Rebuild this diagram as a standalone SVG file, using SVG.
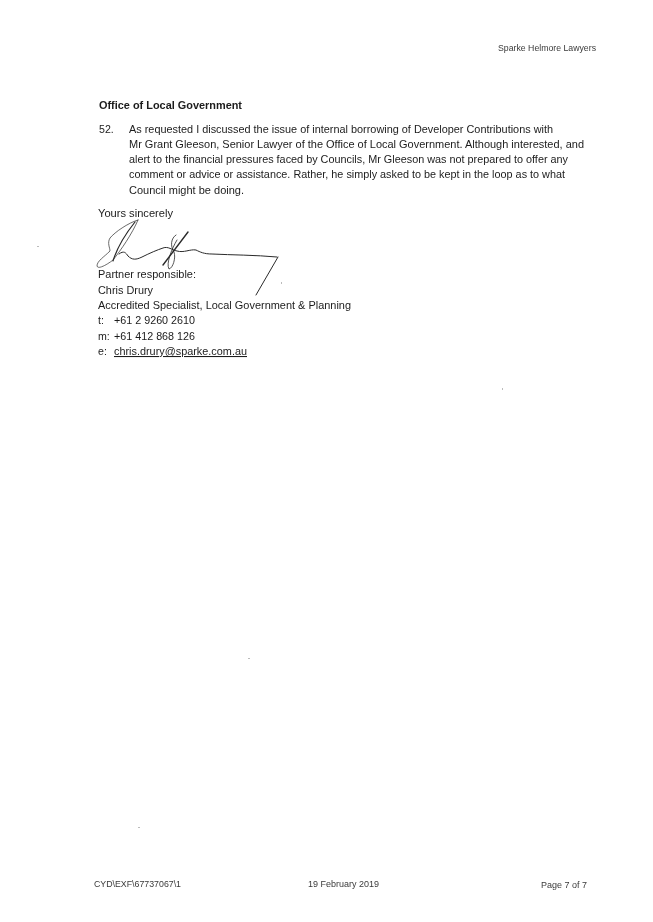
<svg xmlns="http://www.w3.org/2000/svg" width="653" height="922" viewBox="0 0 653 922">
<style>
text{font-family:"Liberation Sans",Arial,sans-serif;fill:#1c1c1c;font-size:10.6px}
.f{font-size:8.6px;fill:#3a3a3a}
.s{fill:none;stroke:#2a2a2a;stroke-linecap:round;stroke-linejoin:round}
.d{fill:#bbb}
</style>
<defs><filter id="scan" x="0" y="0" width="100%" height="100%"><feGaussianBlur stdDeviation="0.3"/></filter></defs>
<rect width="653" height="922" fill="#fff"/>
<g filter="url(#scan)">
<text class="f" x="498" y="51" textLength="98" lengthAdjust="spacingAndGlyphs">Sparke Helmore Lawyers</text>
<text x="99" y="109" font-weight="bold" textLength="143" lengthAdjust="spacingAndGlyphs">Office of Local Government</text>
<text x="99" y="133">52.</text>
<text x="129" y="133" textLength="424" lengthAdjust="spacingAndGlyphs">As requested I discussed the issue of internal borrowing of Developer Contributions with</text>
<text x="129" y="148" textLength="455" lengthAdjust="spacingAndGlyphs">Mr Grant Gleeson, Senior Lawyer of the Office of Local Government. Although interested, and</text>
<text x="129" y="163" textLength="439" lengthAdjust="spacingAndGlyphs">alert to the financial pressures faced by Councils, Mr Gleeson was not prepared to offer any</text>
<text x="129" y="178" textLength="436" lengthAdjust="spacingAndGlyphs">comment or advice or assistance. Rather, he simply asked to be kept in the loop as to what</text>
<text x="129" y="194" textLength="115" lengthAdjust="spacingAndGlyphs">Council might be doing.</text>
<text x="98" y="217" textLength="75" lengthAdjust="spacingAndGlyphs">Yours sincerely</text>
<g id="signature">
<path class="s" stroke-width="0.7" d="M138 220C128 223 115 232 110 238C107 243 110 248 110 251C104 257 97 261 97 266C98 270 108 264 113 260C121 250 132 234 138 220"/>
<path class="s" stroke-width="1.2" d="M135 222C127 232 117 248 113 261"/>
<path class="s" stroke-width="1" d="M119 254C124 250 126 253 128 256C132 260 136 260 142 257C150 253 157 250 163 248C168 246 172 250 177 251C184 253 190 249 196 250C200 252 204 254 212 254C232 255 255 255 277 257"/>
<path class="s" stroke-width="1.4" d="M188 232L163 265"/>
<path class="s" stroke-width="0.8" d="M176 235C171 238 170 246 174 252C176 258 173 268 169 269C166 264 171 250 177 240"/>
<path class="s" stroke-width="1" d="M278 257L256 295"/>
</g>
<text x="98" y="278" textLength="98" lengthAdjust="spacingAndGlyphs">Partner responsible:</text>
<text x="98" y="294" textLength="55" lengthAdjust="spacingAndGlyphs">Chris Drury</text>
<text x="98" y="309" textLength="253" lengthAdjust="spacingAndGlyphs">Accredited Specialist, Local Government &amp; Planning</text>
<text x="98" y="324">t:</text>
<text x="114" y="324" textLength="81" lengthAdjust="spacingAndGlyphs">+61 2 9260 2610</text>
<text x="98" y="340">m:</text>
<text x="114" y="340" textLength="81" lengthAdjust="spacingAndGlyphs">+61 412 868 126</text>
<text x="98" y="355">e:</text>
<text x="114" y="355" textLength="133" lengthAdjust="spacingAndGlyphs" text-decoration="underline">chris.drury@sparke.com.au</text>
<text class="f" x="94" y="887" textLength="87" lengthAdjust="spacingAndGlyphs">CYD\EXF\67737067\1</text>
<text class="f" x="308" y="887" textLength="71" lengthAdjust="spacingAndGlyphs">19 February 2019</text>
<text class="f" x="541" y="888" textLength="46" lengthAdjust="spacingAndGlyphs">Page 7 of 7</text>
</g>
<g id="specks">
<rect class="d" x="37" y="246" width="2" height="1"/>
<rect class="d" x="281" y="282" width="1" height="2"/>
<rect class="d" x="502" y="388" width="1" height="2"/>
<rect class="d" x="248" y="658" width="2" height="1"/>
<rect class="d" x="138" y="827" width="2" height="1"/>
</g>
</svg>
